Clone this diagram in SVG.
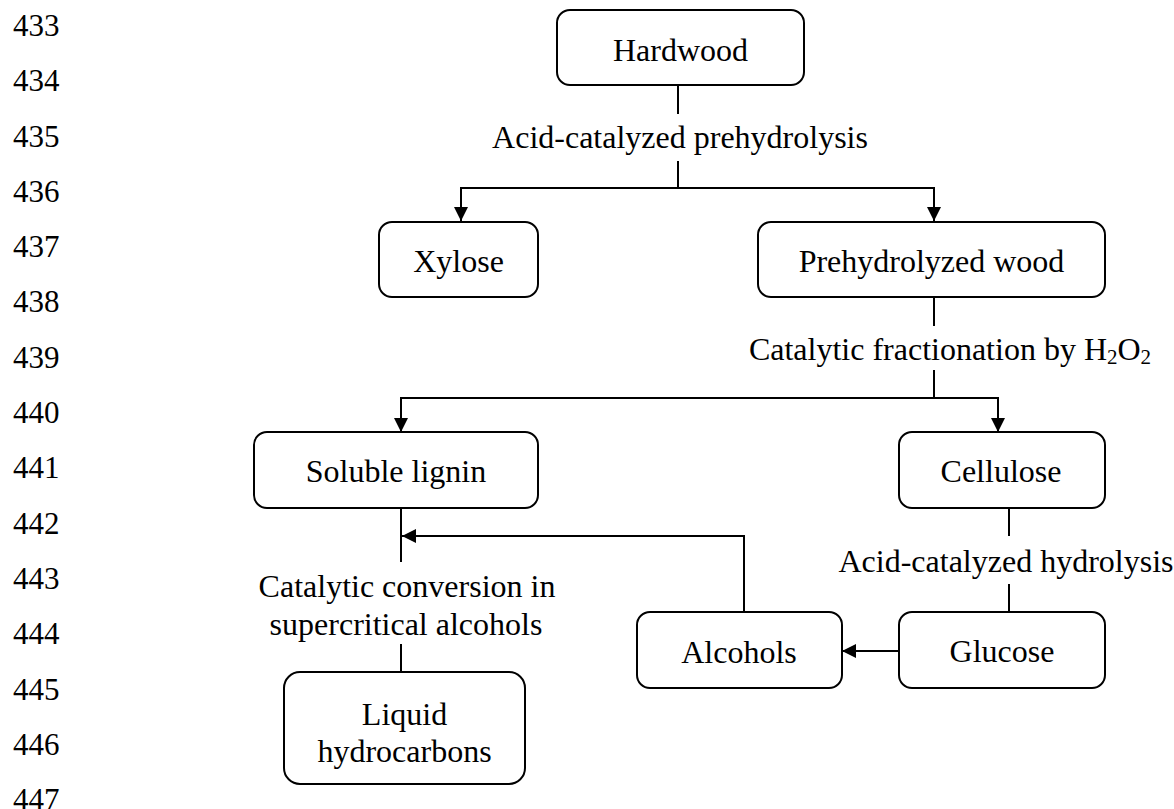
<svg xmlns="http://www.w3.org/2000/svg" width="1174" height="809" viewBox="0 0 1174 809">
<style>
text{font-family:"Liberation Serif","Times New Roman",serif;fill:#000}
.ln{font-size:31px}
.t{font-size:32px;text-anchor:middle}
.box{fill:#fff;stroke:#000;stroke-width:2}
.c{fill:none;stroke:#000;stroke-width:2}
</style>
<defs>
<marker id="ah" viewBox="0 0 14 14" refX="14" refY="7" markerWidth="14" markerHeight="14" markerUnits="userSpaceOnUse" orient="auto">
<path d="M0,0 L14,7 L0,14 z" fill="#000"/>
</marker>
</defs>
<rect width="1174" height="809" fill="#fff"/>
<g id="line-numbers" class="ln">
<text x="13" y="36">433</text>
<text x="13" y="91">434</text>
<text x="13" y="147">435</text>
<text x="13" y="202">436</text>
<text x="13" y="257">437</text>
<text x="13" y="312">438</text>
<text x="13" y="368">439</text>
<text x="13" y="423">440</text>
<text x="13" y="478">441</text>
<text x="13" y="534">442</text>
<text x="13" y="589">443</text>
<text x="13" y="644">444</text>
<text x="13" y="700">445</text>
<text x="13" y="755">446</text>
<text x="13" y="810">447</text>
</g>
<g id="connectors">
<path class="c" d="M678,85 V114"/>
<path class="c" d="M678,161 V188"/>
<path class="c" d="M678,188 H461 V221" marker-end="url(#ah)"/>
<path class="c" d="M678,188 H934 V221" marker-end="url(#ah)"/>
<path class="c" d="M934,297 V326"/>
<path class="c" d="M934,370 V398"/>
<path class="c" d="M934,398 H401 V432" marker-end="url(#ah)"/>
<path class="c" d="M934,398 H998 V432" marker-end="url(#ah)"/>
<path class="c" d="M401,508 V562"/>
<path class="c" d="M401,644 V672"/>
<path class="c" d="M744,612 V536 H402" marker-end="url(#ah)"/>
<path class="c" d="M1009,508 V536"/>
<path class="c" d="M1009,584 V612"/>
<path class="c" d="M899,651 H842" marker-end="url(#ah)"/>
</g>
<g id="labels">
<text class="t" x="680" y="148">Acid-catalyzed prehydrolysis</text>
<text class="t" x="950" y="360">Catalytic fractionation by H<tspan font-size="21" dy="4">2</tspan><tspan dy="-4">O</tspan><tspan font-size="21" dy="4">2</tspan></text>
<text class="t" x="1006" y="572">Acid-catalyzed hydrolysis</text>
<text class="t" x="407" y="597">Catalytic conversion in</text>
<text class="t" x="406" y="635">supercritical alcohols</text>
</g>
<g id="hardwood">
<rect class="box" x="557" y="10" width="247" height="75" rx="13"/>
<text class="t" x="680.5" y="61">Hardwood</text>
</g>
<g id="xylose">
<rect class="box" x="379" y="222" width="159" height="75" rx="13"/>
<text class="t" x="458.5" y="272">Xylose</text>
</g>
<g id="prehydrolyzed-wood">
<rect class="box" x="758" y="222" width="347" height="75" rx="13"/>
<text class="t" x="931.5" y="272">Prehydrolyzed wood</text>
</g>
<g id="soluble-lignin">
<rect class="box" x="254" y="432" width="284" height="76" rx="13"/>
<text class="t" x="396" y="482">Soluble lignin</text>
</g>
<g id="cellulose">
<rect class="box" x="899" y="432" width="206" height="76" rx="13"/>
<text class="t" x="1001" y="482">Cellulose</text>
</g>
<g id="alcohols">
<rect class="box" x="637" y="612" width="205" height="76" rx="13"/>
<text class="t" x="739" y="663">Alcohols</text>
</g>
<g id="glucose">
<rect class="box" x="899" y="612" width="206" height="76" rx="13"/>
<text class="t" x="1002" y="662">Glucose</text>
</g>
<g id="liquid-hydrocarbons">
<rect class="box" x="284" y="672" width="241" height="112" rx="16"/>
<text class="t" x="404.5" y="725">Liquid</text>
<text class="t" x="404.5" y="762">hydrocarbons</text>
</g>
</svg>
